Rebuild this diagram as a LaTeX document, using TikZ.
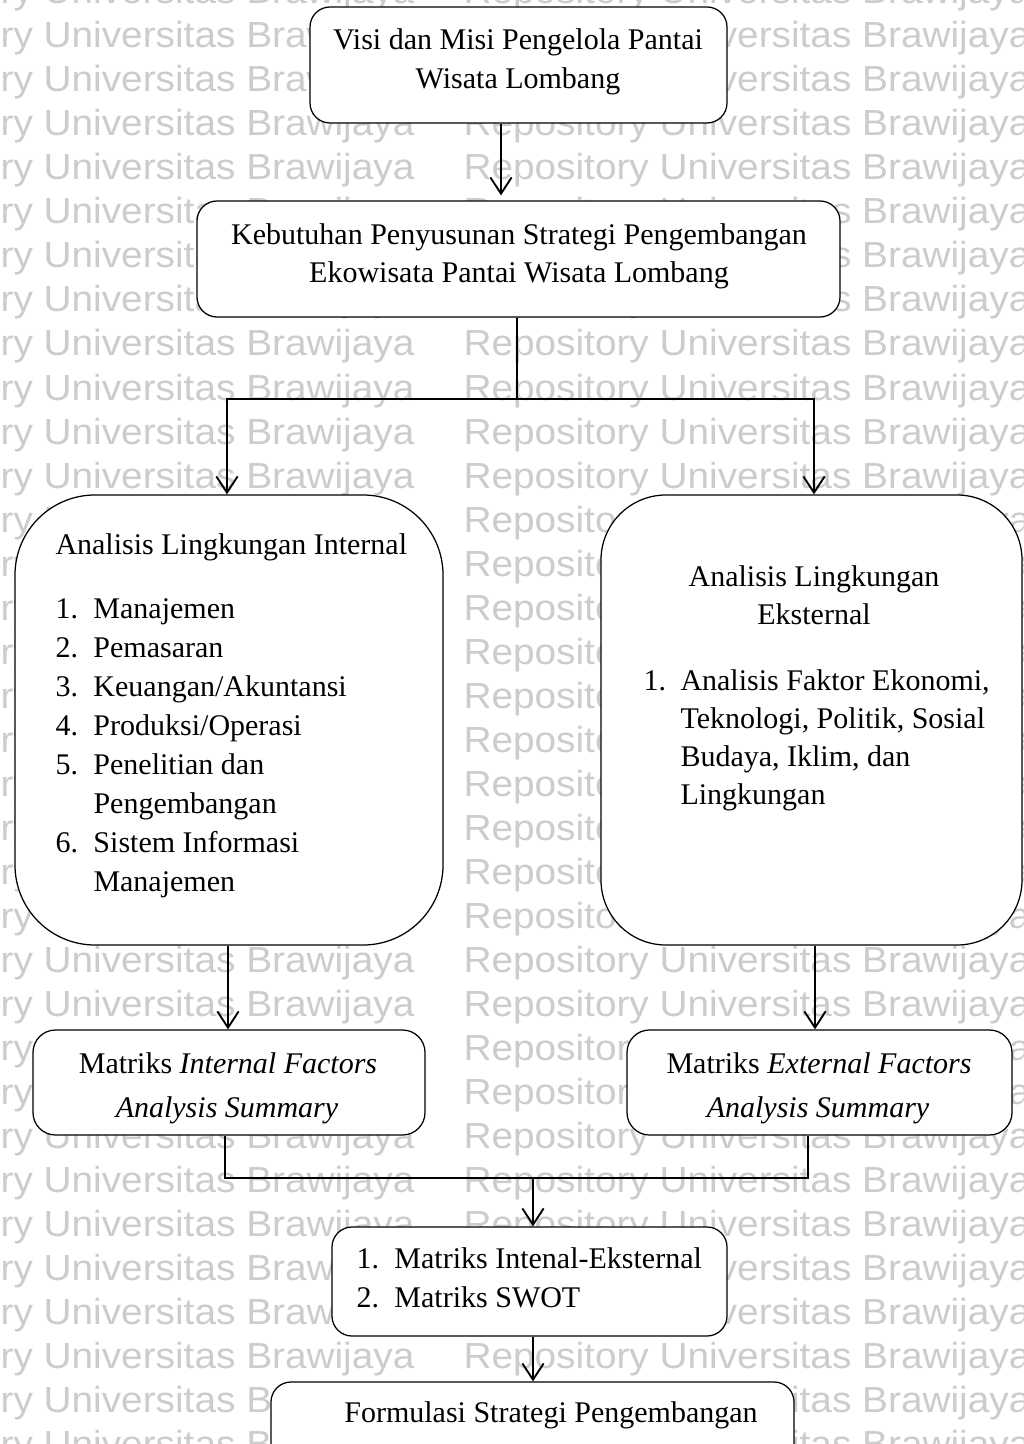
\documentclass[tikz,border=0pt]{standalone}
\usepackage{fontspec}
\usepackage{graphicx}
\setmainfont{Liberation Serif}
\newfontfamily\wmfont{Liberation Sans}
\usetikzlibrary{arrows.meta}
\tikzset{
  x=0.4pt, y=-0.4pt,
  box/.style={draw=black, fill=white, line width=0.5pt, rounded corners=8pt, inner sep=0pt},
  txt/.style={font=\fontsize{12pt}{15.6pt}\selectfont, inner sep=0pt, text=black},
  wm/.style={font=\wmfont\fontsize{14.5pt}{16pt}\selectfont, text=black!20, inner sep=0pt},
  conn/.style={draw=black, line width=0.75pt},
  arr/.style={conn, -{Straight Barb[length=6.5pt,width=8.5pt]}},
}
\begin{document}
\begin{tikzpicture}
\useasboundingbox (0,0) rectangle (1024,1444);
\clip (0,0) rectangle (1024,1444);
\fill[white] (0,0) rectangle (1024,1444);
% watermark
\foreach \k in {0,...,33} {
  \node[wm, anchor=base east] (wmA\k) at (415,{4+44*\k}) {\scalebox{1.07}[1]{Repository Universitas Brawijaya}};
  \node[wm, anchor=base west] (wmB\k) at (463,{4+44*\k}) {\scalebox{1.07}[1]{Repository Universitas Brawijaya}};
}
% boxes
\node[box, minimum width=166.8pt, minimum height=46.4pt] (visi) at (518.5,65) {};
\node[box, minimum width=257.2pt, minimum height=46.4pt] (keb) at (518.5,259) {};
\node[box, minimum width=171.2pt, minimum height=180pt, rounded corners=32pt] (int) at (229,720) {};
\node[box, minimum width=168.4pt, minimum height=180pt, rounded corners=26pt] (ext) at (811.5,720) {};
\node[box, minimum width=156.8pt, minimum height=42pt, rounded corners=9pt] (ifas) at (229,1082.5) {};
\node[box, minimum width=154pt, minimum height=42pt, rounded corners=9pt] (efas) at (819.5,1082.5) {};
\node[box, minimum width=158pt, minimum height=43.6pt] (swot) at (529.5,1281.5) {};
\node[box, minimum width=209.2pt, minimum height=46.4pt] (form) at (532.5,1440) {};
% texts
\node[txt, anchor=base] (visi1) at (518,50) {Visi dan Misi Pengelola Pantai};
\node[txt, anchor=base] (visi2) at (518,89) {Wisata Lombang};
\node[txt, anchor=base] (keb1) at (519,245) {Kebutuhan Penyusunan Strategi Pengembangan};
\node[txt, anchor=base] (keb2) at (519,283) {Ekowisata Pantai Wisata Lombang};
\node[txt, anchor=base west] (inth) at (55,554) {Analisis Lingkungan Internal};
\node[txt, anchor=base west] (intl) at (55,618) {\begin{tabular}[t]{@{}p{15.2pt}@{}l@{}}
1. & Manajemen\\
2. & Pemasaran\\
3. & Keuangan/Akuntansi\\
4. & Produksi/Operasi\\
5. & Penelitian dan\\
   & Pengembangan\\
6. & Sistem Informasi\\
   & Manajemen
\end{tabular}};
\node[txt, anchor=base] (exth1) at (814,586) {Analisis Lingkungan};
\node[txt, anchor=base] (exth2) at (814,624) {Eksternal};
\node[txt, anchor=base west, font=\fontsize{12pt}{15.3pt}\selectfont] (extl) at (643,690) {\begin{tabular}[t]{@{}p{14.8pt}@{}l@{}}
1. & Analisis Faktor Ekonomi,\\
   & Teknologi, Politik, Sosial\\
   & Budaya, Iklim, dan\\
   & Lingkungan
\end{tabular}};
\node[txt, anchor=base] (ifas1) at (228,1073) {Matriks \textit{Internal Factors}};
\node[txt, anchor=base] (ifas2) at (227,1117) {\textit{Analysis Summary}};
\node[txt, anchor=base] (efas1) at (819,1073) {Matriks \textit{External Factors}};
\node[txt, anchor=base] (efas2) at (818,1117) {\textit{Analysis Summary}};
\node[txt, anchor=base west] (swotl) at (356,1268) {\begin{tabular}[t]{@{}p{15.2pt}@{}l@{}}
1. & Matriks Intenal-Eksternal\\
2. & Matriks SWOT
\end{tabular}};
\node[txt, anchor=base] (form1) at (551,1422) {Formulasi Strategi Pengembangan};
% connectors
\coordinate (xa) at (501,0);
\coordinate (xb) at (517,399);
\coordinate (sl) at (227,399);
\coordinate (sr) at (814,399);
\coordinate (xc) at (228,0);
\coordinate (xd) at (815,0);
\coordinate (jl) at (225,0);
\coordinate (jr) at (808,0);
\coordinate (jm) at (533,1178);
\draw[arr, shorten >=2pt] (visi.south -| xa) -- (keb.north -| xa);
\draw[arr] (keb.south -| xb) -- (xb) -| (int.north -| sl);
\draw[arr] (xb) -| (ext.north -| sr);
\draw[arr] (int.south -| xc) -- (ifas.north -| xc);
\draw[arr] (ext.south -| xd) -- (efas.north -| xd);
\draw[conn] (ifas.south -| jl) |- (jm);
\draw[conn] (efas.south -| jr) |- (jm);
\draw[arr] (jm) -- (swot.north -| jm);
\draw[arr] (swot.south -| jm) -- (form.north -| jm);
\end{tikzpicture}
\end{document}
